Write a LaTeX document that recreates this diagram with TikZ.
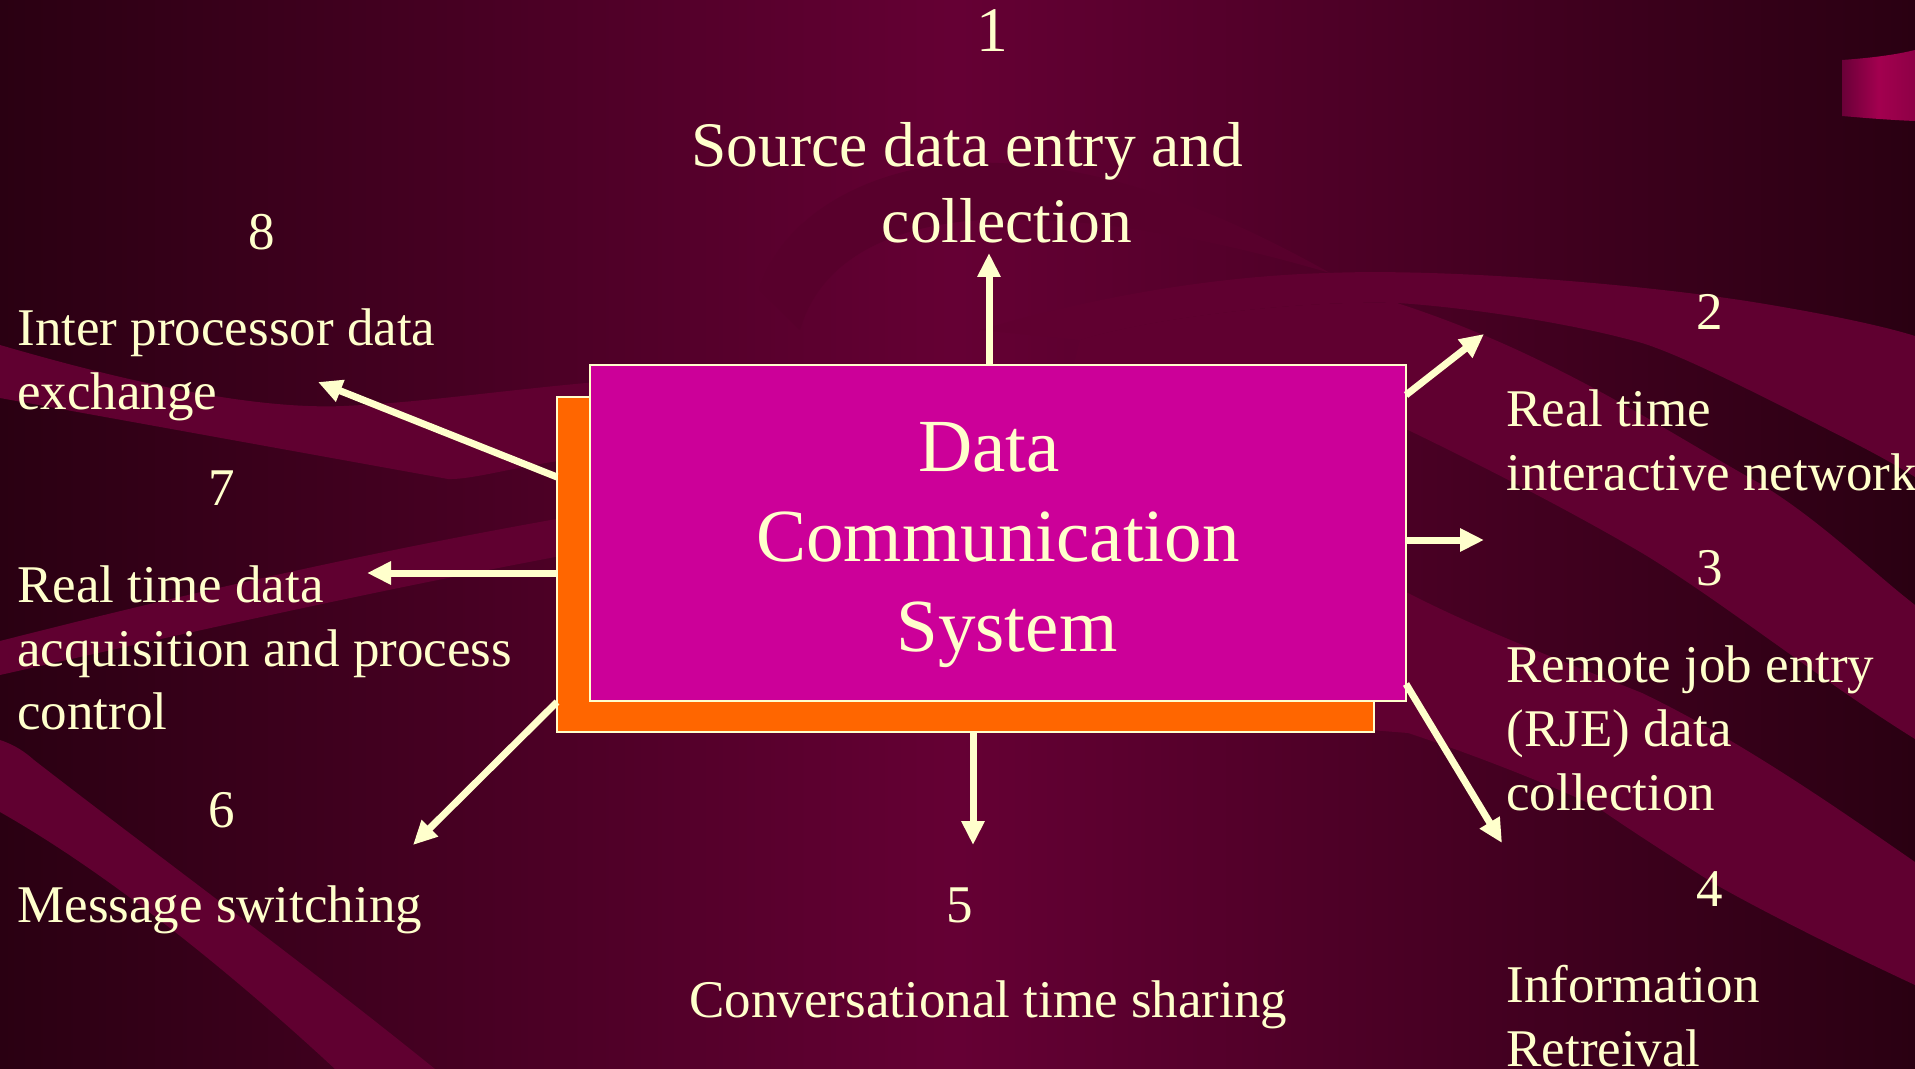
\documentclass[tikz,border=0pt]{standalone}
\usepackage{fontspec}
\setmainfont{Liberation Serif}
\usetikzlibrary{arrows.meta,calc}
\definecolor{bgdark}{HTML}{2A0012}
\definecolor{bgmid}{HTML}{650034}
\definecolor{band}{HTML}{600030}
\definecolor{arcdark}{HTML}{58002C}
\definecolor{cream}{HTML}{FFFFCC}
\definecolor{magbox}{HTML}{CC0099}
\definecolor{orbox}{HTML}{FF6600}
\definecolor{ribA}{HTML}{6A0038}
\definecolor{ribB}{HTML}{A3004F}
\definecolor{ribC}{HTML}{8E0046}
\begin{document}
\begin{tikzpicture}[x=0.5pt,y=-0.5pt,
  lbl/.style={text=cream,font=\fontsize{26.5}{32}\selectfont,inner sep=0pt,anchor=base west},
  num/.style={text=cream,font=\fontsize{26.5}{32}\selectfont,inner sep=0pt,anchor=base},
  toplbl/.style={text=cream,font=\fontsize{31.75}{38}\selectfont,inner sep=0pt,anchor=base west},
  topnum/.style={text=cream,font=\fontsize{31.75}{38}\selectfont,inner sep=0pt,anchor=base},
  boxtxt/.style={text=cream,font=\fontsize{37.5}{45}\selectfont,inner sep=0pt,anchor=base},
  conn/.style={draw=cream,line width=3.5pt,-{Triangle[length=12pt,width=11pt]}},
  panel/.style={draw=cream,line width=1pt,inner sep=0pt,outer sep=0pt}
]
\useasboundingbox (0,0) rectangle (1915,1069);
% background
\shade[left color=bgdark,right color=bgdark,middle color=bgmid] (0,0) rectangle (1915,1069);
% left bands
\fill[band] (0,345) .. controls (120,380) and (250,410) .. (344,406)
  .. controls (430,402) and (500,390) .. (620,380) -- (620,455)
  .. controls (540,458) and (480,480) .. (448,479) -- (0,398) -- cycle;
\fill[band] (0,641) .. controls (200,590) and (400,545) .. (620,508) -- (620,545)
  .. controls (400,585) and (200,630) .. (0,675) -- cycle;
\fill[band] (0,740) .. controls (15,745) and (25,752) .. (34,760)
  .. controls (150,850) and (300,960) .. (435,1069) -- (335,1069)
  .. controls (250,990) and (120,880) .. (0,812) -- cycle;
% right bands
\fill[band] (980,330) .. controls (1100,295) and (1220,276) .. (1327,273)
  .. controls (1450,268) and (1650,285) .. (1759,303)
  .. controls (1820,313) and (1880,325) .. (1915,336) -- (1915,477)
  .. controls (1880,455) and (1840,436) .. (1817,424)
  .. controls (1740,385) and (1680,355) .. (1642,343)
  .. controls (1560,320) and (1450,306) .. (1397,303)
  .. controls (1300,300) and (1150,318) .. (1080,340) -- cycle;
\fill[band] (1080,340) .. controls (1150,318) and (1300,300) .. (1397,303)
  .. controls (1480,330) and (1540,360) .. (1584,383)
  .. controls (1650,418) and (1700,450) .. (1759,483)
  .. controls (1820,520) and (1870,570) .. (1915,605) -- (1915,739)
  .. controls (1820,680) and (1720,600) .. (1642,553)
  .. controls (1560,505) and (1470,460) .. (1408,430) -- (1300,420) -- (1070,380) -- cycle;
\fill[band] (1300,560) -- (1408,593) .. controls (1480,630) and (1560,660) .. (1642,693)
  .. controls (1740,740) and (1840,810) .. (1915,862) -- (1915,985)
  .. controls (1840,950) and (1760,910) .. (1713,883)
  .. controls (1680,862) and (1630,830) .. (1597,807)
  .. controls (1540,780) and (1460,750) .. (1408,733) -- (1370,730) -- (1300,690) -- cycle;
% subtle top arc
\fill[arcdark] (759,290) .. controls (780,220) and (860,170) .. (960,163)
  .. controls (1080,158) and (1200,200) .. (1330,273)
  .. controls (1200,235) and (1080,215) .. (980,220)
  .. controls (890,226) and (820,260) .. (800,330) -- cycle;
% top right ribbon
\shade[left color=ribA,right color=ribC,middle color=ribB]
  (1842,60) .. controls (1870,58) and (1895,55) .. (1915,50) -- (1915,121)
  .. controls (1890,120) and (1865,118) .. (1842,116) -- cycle;
% boxes
\node[panel,fill=orbox,minimum width=408.5pt,minimum height=167.5pt] (back) at (965.5,564.5) {};
\node[panel,fill=magbox,minimum width=408pt,minimum height=168pt] (dcs) at (998,533) {};
\node[boxtxt] (dcs1) at (989,471) {Data};
\node[boxtxt] (dcs2) at (998,561) {Communication};
\node[boxtxt] (dcs3) at (1007,651) {System};
% arrows
\coordinate (e1) at (989,253);
\coordinate (e2) at (1484,334);
\coordinate (e3) at (1484,540);
\coordinate (e4) at (1502,843);
\coordinate (e5) at (973,845);
\coordinate (e6) at (413,845);
\coordinate (e7) at (367,573);
\coordinate (e8) at (318,382);
\draw[conn] (dcs.north -| e1) -- (e1);
\draw[conn] ($(dcs.north east)+(0,30)$) -- (e2);
\draw[conn] (dcs.east |- e3) -- (e3);
\draw[conn] ($(dcs.south east)+(0,-17)$) -- (e4);
\draw[conn] (back.south -| e5) -- (e5);
\draw[conn] ($(back.south west)+(0,-30)$) -- (e6);
\draw[conn] (back.west |- e7) -- (e7);
\draw[conn] ($(back.north west)+(0,80)$) -- (e8);
% labels
\node[topnum] (n1) at (992,52) {1};
\node[toplbl] (l1a) at (691,167) {Source data entry and};
\node[topnum] (l1b) at (1007,243) {collection};
\node[num] (n2) at (1710,330) {2};
\node[lbl] (l2a) at (1506,426) {Real time};
\node[lbl] (l2b) at (1506,490) {interactive network};
\node[num] (n3) at (1710,585) {3};
\node[lbl] (l3a) at (1506,682) {Remote job entry};
\node[lbl] (l3b) at (1506,746) {(RJE) data};
\node[lbl] (l3c) at (1506,810) {collection};
\node[num] (n4) at (1710,906) {4};
\node[lbl] (l4a) at (1506,1002) {Information};
\node[lbl] (l4b) at (1506,1066) {Retreival};
\node[num] (n5) at (960,922) {5};
\node[lbl] (l5) at (689,1017) {Conversational time sharing};
\node[num] (n6) at (222,827) {6};
\node[lbl] (l6) at (17,922) {Message switching};
\node[num] (n7) at (222,505) {7};
\node[lbl] (l7a) at (17,602) {Real time data};
\node[lbl] (l7b) at (17,666) {acquisition and process};
\node[lbl] (l7c) at (17,729) {control};
\node[num] (n8) at (262,250) {8};
\node[lbl] (l8a) at (17,346) {Inter processor data};
\node[lbl] (l8b) at (17,409) {exchange};
\end{tikzpicture}
\end{document}
